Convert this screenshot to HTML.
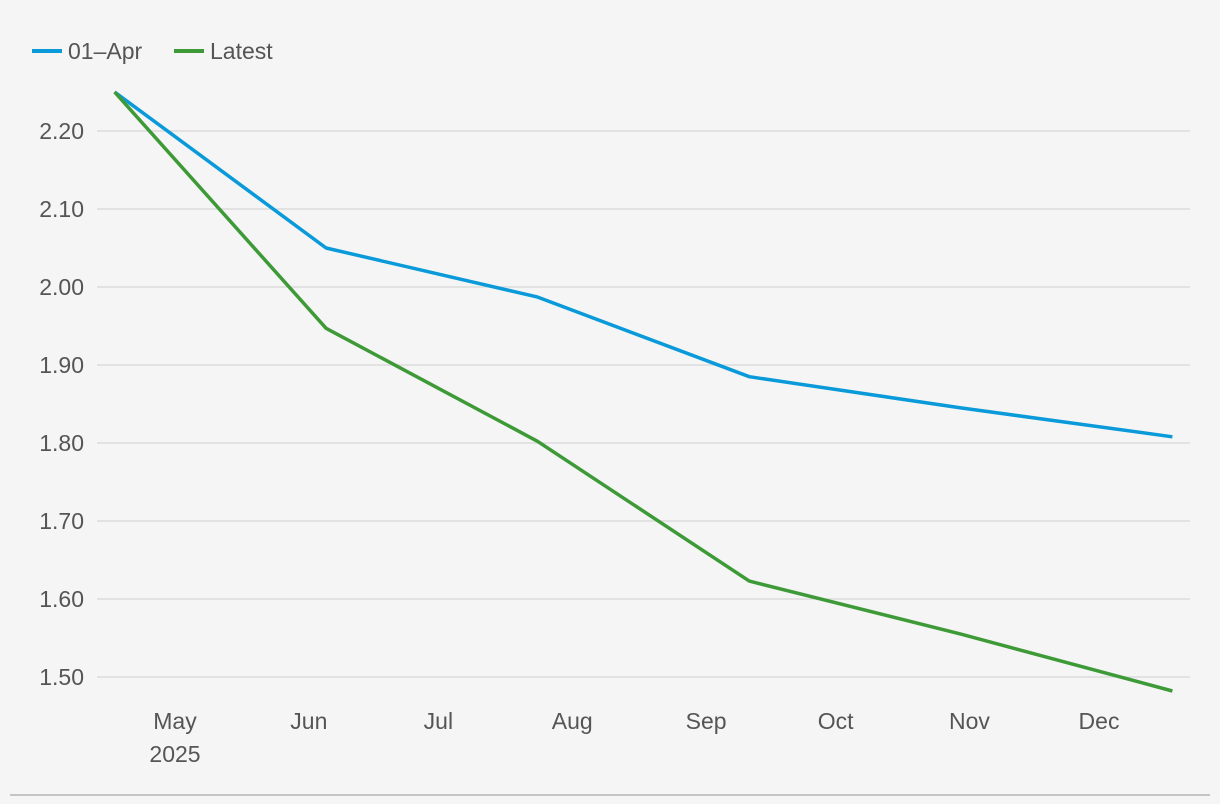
<!DOCTYPE html>
<html><head><meta charset="utf-8"><style>
html,body{margin:0;padding:0;background:#f5f5f5;}
svg{display:block;font-family:"Liberation Sans","DejaVu Sans",sans-serif;}
</style></head><body>
<svg id="chart" width="1220" height="804">
<g id="legend">
 <g>
  <line x1="32" y1="51" x2="62" y2="51" stroke="#0a9ad9" stroke-width="4"/>
  <text x="68" y="59" font-size="23" fill="#555">01–Apr</text>
 </g>
 <g>
  <line x1="174" y1="51" x2="204" y2="51" stroke="#3d9a37" stroke-width="4"/>
  <text x="210" y="59" font-size="23" fill="#555">Latest</text>
 </g>
</g>
<g id="grid"></g>
<g id="yaxis"></g>
<g id="xaxis"></g>
<g id="series"></g>
<line x1="10" y1="795" x2="1210" y2="795" stroke="#b5b5b5" stroke-width="1.5"/>
</svg>
<script>
const yTicks = [1.5, 1.6, 1.7, 1.8, 1.9, 2.0, 2.1, 2.2];
const monthLabels = ["May", "Jun", "Jul", "Aug", "Sep", "Oct", "Nov", "Dec"];
const monthDays = [121, 152, 182, 213, 244, 274, 305, 335];
const pointDays = [107, 156, 205, 254, 303, 352];
const seriesApr = [2.25, 2.05, 1.987, 1.885, 1.845, 1.808];
const seriesLatest = [2.25, 1.947, 1.802, 1.623, 1.555, 1.482];

const NS = "http://www.w3.org/2000/svg";
function x(d){ return 175 + (d - 121) * (1099 - 175) / (335 - 121); }
function y(v){ return 131 + (2.2 - v) * 780; }
function el(tag, attrs, parent){ const e = document.createElementNS(NS, tag); for (const k in attrs) e.setAttribute(k, attrs[k]); parent.appendChild(e); return e; }

const grid = document.getElementById("grid"), yaxis = document.getElementById("yaxis"), xaxis = document.getElementById("xaxis"), series = document.getElementById("series");
yTicks.forEach(v => {
  const g = el("line", {x1: 97, x2: 1190, y1: y(v), y2: y(v), stroke: "#dcdcdc", "stroke-width": 1.5}, grid);
  
  
  const t = el("text", {x: 84, y: y(v) + 8, "font-size": 23, fill: "#555", "text-anchor": "end"}, yaxis);
  t.textContent = v.toFixed(2);
  
  
});
monthLabels.forEach((m, i) => {
  const t = el("text", {x: x(monthDays[i]), y: 729, "font-size": 23, fill: "#555", "text-anchor": "middle"}, xaxis);
  t.textContent = m;
  
  
});
const yr = el("text", {x: x(monthDays[0]), y: 762, "font-size": 23, fill: "#555", "text-anchor": "middle"}, xaxis);
yr.textContent = "2025";



function line(vals, color, name){
  const pts = vals.map((v, i) => x(pointDays[i]).toFixed(1) + "," + y(v).toFixed(1)).join(" ");
  const p = el("polyline", {points: pts, fill: "none", stroke: color, "stroke-width": 3.5, "stroke-linejoin": "round"}, series);
  
  
}
line(seriesApr, "#0a9ad9", "line-01-apr");
line(seriesLatest, "#3d9a37", "line-latest");
</script>
</body></html>
